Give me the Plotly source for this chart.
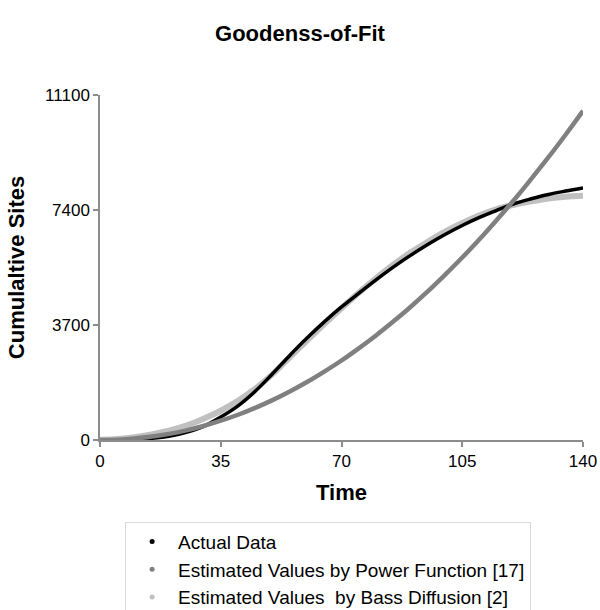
import plotly.graph_objects as go

# Time values
time = [0, 5, 10, 15, 20, 25, 30, 35, 40, 45, 50, 55, 60, 65, 70, 75, 80, 85, 90,
        95, 100, 105, 110, 115, 120, 125, 130, 135, 140]

actual_data = [0, 5, 20, 55, 120, 250, 440, 740, 1100, 1570, 2130, 2720, 3280, 3800,
               4280, 4720, 5150, 5560, 5940, 6290, 6610, 6900, 7160, 7390, 7600, 7760,
               7900, 8010, 8110]

power_function = [0, 10, 47, 110, 196, 310, 451, 620, 812, 1035, 1282, 1560, 1864, 2200,
                  2558, 2950, 3363, 3810, 4281, 4780, 5313, 5870, 6458, 7080, 7720, 8400,
                  9098, 9830, 10590]

bass_diffusion = [10, 35, 90, 180, 300, 460, 680, 940, 1260, 1650, 2120, 2660, 3200, 3730,
                  4240, 4740, 5200, 5640, 6030, 6380, 6700, 6980, 7230, 7430, 7570, 7680,
                  7770, 7830, 7860]

series_names = ["Actual Data",
                "Estimated Values by Power Function [17]",
                "Estimated Values  by Bass Diffusion [2]"]
series_colors = ["#000000", "#808080", "#c0c0c0"]

y_ticks = [0, 3700, 7400, 11100]
y_tick_labels = ["0", "3700", "7400", "11100"]
x_ticks = [0, 35, 70, 105, 140]

FONT = "Liberation Sans, Arial, sans-serif"

fig = go.Figure()

# Curves (drawn: bass bottom, actual, power on top)
fig.add_trace(go.Scatter(x=time, y=bass_diffusion, mode="lines", line=dict(color=series_colors[2], width=6, shape="spline"),
                         showlegend=False, hoverinfo="skip"))
fig.add_trace(go.Scatter(x=time, y=actual_data, mode="lines", line=dict(color=series_colors[0], width=3.5, shape="spline"),
                         showlegend=False, hoverinfo="skip"))
fig.add_trace(go.Scatter(x=time, y=power_function, mode="lines", line=dict(color=series_colors[1], width=4.5, shape="spline"),
                         showlegend=False, hoverinfo="skip"))

# Legend entries (small dots like original)
for name, color in zip(series_names, series_colors):
    fig.add_trace(go.Scatter(x=[None], y=[None], mode="markers", name=name,
                             marker=dict(color=color, size=5)))

fig.update_layout(
    width=600, height=610,
    margin=dict(l=100, r=17, t=95, b=170, autoexpand=False),
    paper_bgcolor="white", plot_bgcolor="white",
    font=dict(family=FONT, color="#000000"),
    title=dict(text="<b>Goodenss-of-Fit</b>", x=0.5, xanchor="center", y=0.945, yanchor="middle",
               font=dict(size=22, family=FONT)),
    xaxis=dict(range=[0, 140], tickvals=x_ticks, showgrid=False, zeroline=False,
               showline=True, linecolor="#8c8c8c", linewidth=1.5, automargin=False,
               ticks="outside", ticklen=5, tickcolor="#8c8c8c", tickwidth=1.5,
               tickfont=dict(size=17), title=dict(text="<b>Time</b>", font=dict(size=22), standoff=14)),
    yaxis=dict(range=[0, 11100], tickvals=y_ticks, ticktext=y_tick_labels, showgrid=False, zeroline=False,
               showline=True, linecolor="#8c8c8c", linewidth=1.5, automargin=False,
               ticks="outside", ticklen=5, tickcolor="#8c8c8c", tickwidth=1.5,
               tickfont=dict(size=17), title=dict(text="<b>Cumulaltive Sites</b>", font=dict(size=22), standoff=14)),
    legend=dict(x=0.052, y=-0.237, xanchor="left", yanchor="top",
                bordercolor="#d9d9d9", borderwidth=1, bgcolor="white",
                font=dict(size=19, family=FONT), itemwidth=42, tracegroupgap=0),
)

fig.write_html("out.html", config={"displayModeBar": False},
               post_script="document.body.style.margin='0';document.body.style.overflow='hidden';")
